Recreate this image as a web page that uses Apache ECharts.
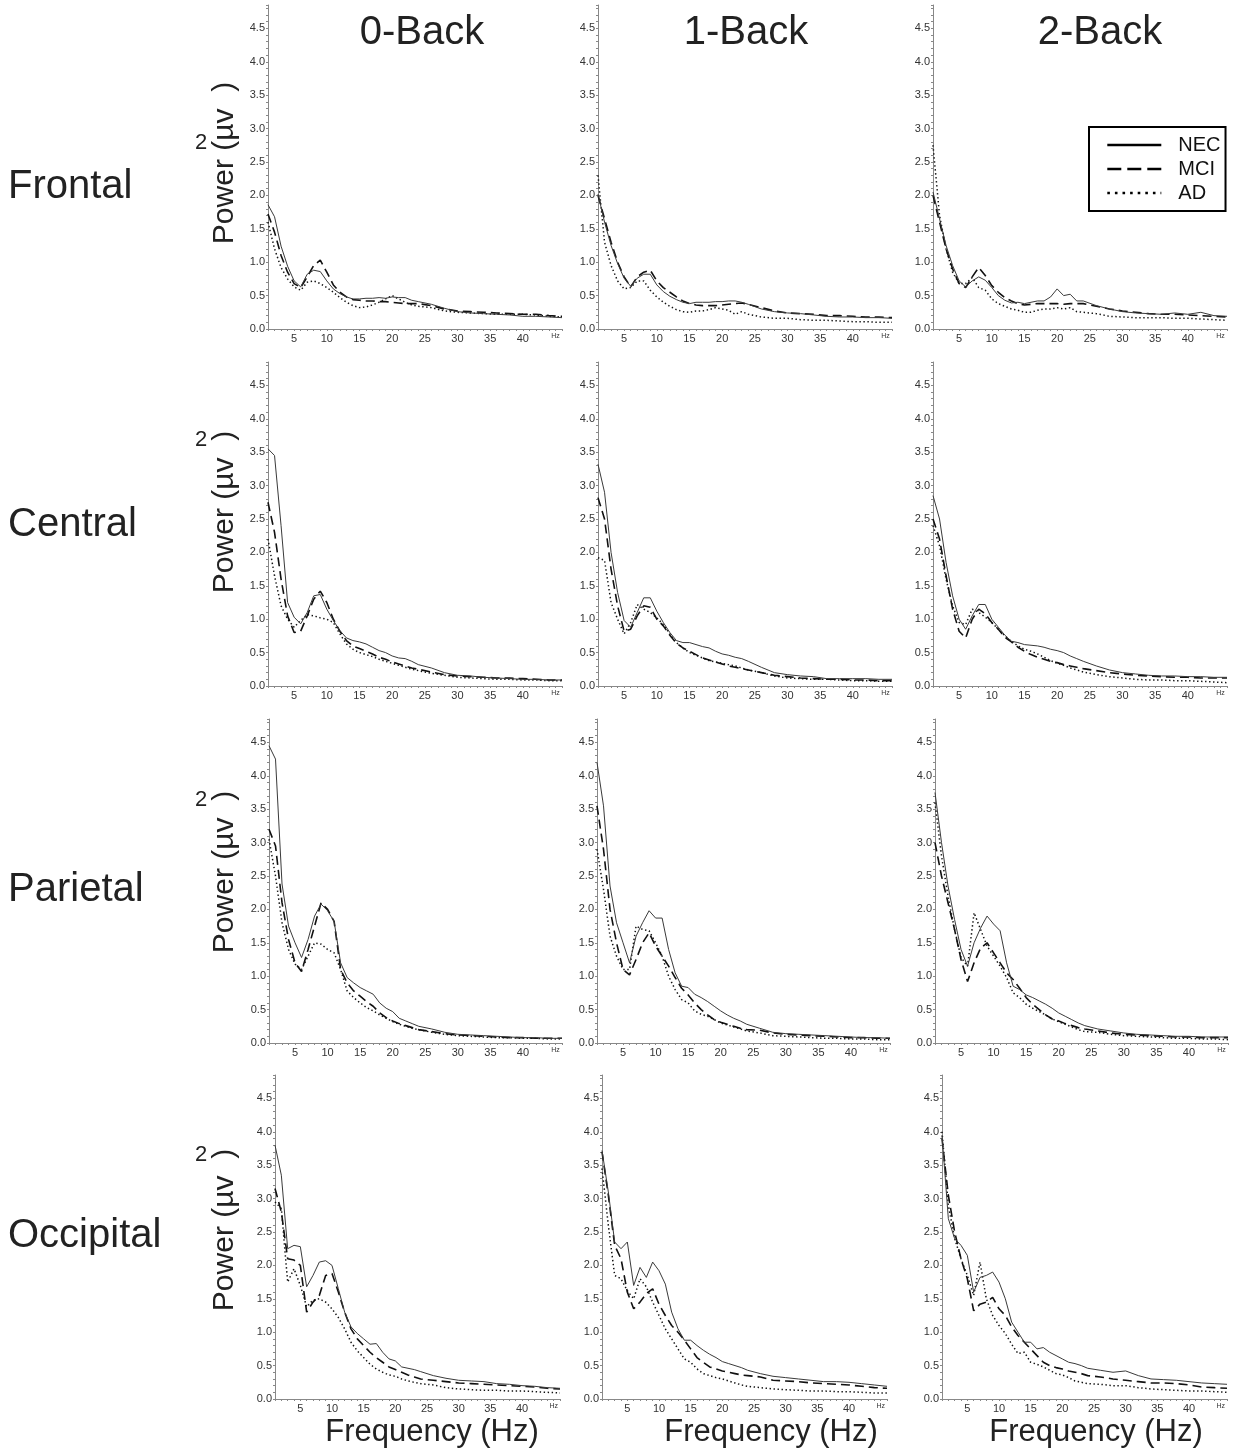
<!DOCTYPE html>
<html><head><meta charset="utf-8">
<script src="https://cdn.jsdelivr.net/npm/echarts@6/dist/echarts.min.js"></script>
<style>html,body{margin:0;padding:0;background:#fff}#c{width:1233px;height:1452px}</style>
</head><body><div id="c"></div>
<script>
const FREQ = [1,2,3,4,5,6,7,8,9,10,11,12,13,14,15,16,17,18,19,20,21,22,23,24,26,28,30,32,34,36,38,40,42,44,46];
const REGIONS = ['Frontal','Central','Parietal','Occipital'];
const TASKS = ['0-Back','1-Back','2-Back'];
const GROUPS = ['NEC','MCI','AD'];
const X_TICKS = [5,10,15,20,25,30,35,40,45];
const X_TICK_LABELS = ['5','10','15','20','25','30','35','40','Hz'];
const Y_TICKS = [0,0.5,1,1.5,2,2.5,3,3.5,4,4.5];
const Y_TICK_LABELS = ['0.0','0.5','1.0','1.5','2.0','2.5','3.0','3.5','4.0','4.5'];

// Frontal
const FRONTAL_0_NEC = [1.86,1.68,1.24,0.94,0.72,0.63,0.82,0.88,0.86,0.72,0.60,0.53,0.48,0.45,0.45,0.46,0.46,0.47,0.46,0.48,0.47,0.47,0.43,0.41,0.37,0.31,0.26,0.24,0.23,0.22,0.21,0.19,0.19,0.18,0.17];
const FRONTAL_0_MCI = [1.72,1.45,1.10,0.85,0.68,0.62,0.78,0.95,1.03,0.85,0.66,0.55,0.48,0.44,0.43,0.42,0.42,0.41,0.41,0.40,0.39,0.38,0.38,0.38,0.35,0.30,0.27,0.26,0.25,0.24,0.23,0.22,0.22,0.20,0.19];
const FRONTAL_0_AD  = [1.60,1.20,0.92,0.75,0.63,0.58,0.70,0.72,0.68,0.62,0.55,0.47,0.40,0.35,0.32,0.33,0.36,0.40,0.45,0.50,0.45,0.40,0.36,0.34,0.32,0.27,0.25,0.24,0.23,0.22,0.22,0.22,0.21,0.19,0.18];
const FRONTAL_1_NEC = [2.02,1.60,1.25,0.98,0.76,0.64,0.76,0.82,0.82,0.66,0.56,0.49,0.44,0.40,0.38,0.40,0.40,0.40,0.41,0.41,0.42,0.42,0.40,0.37,0.30,0.26,0.24,0.23,0.21,0.19,0.18,0.18,0.17,0.17,0.16];
const FRONTAL_1_MCI = [2.00,1.65,1.30,1.00,0.78,0.63,0.78,0.85,0.88,0.72,0.62,0.55,0.48,0.42,0.38,0.36,0.35,0.35,0.35,0.36,0.37,0.38,0.39,0.37,0.32,0.27,0.24,0.23,0.22,0.20,0.20,0.19,0.18,0.18,0.17];
const FRONTAL_1_AD  = [2.30,1.30,0.95,0.72,0.60,0.62,0.72,0.72,0.58,0.48,0.40,0.34,0.29,0.26,0.25,0.27,0.27,0.29,0.32,0.30,0.28,0.22,0.26,0.22,0.18,0.16,0.16,0.14,0.13,0.13,0.12,0.11,0.11,0.10,0.10];
const FRONTAL_2_NEC = [2.05,1.65,1.25,0.95,0.72,0.63,0.72,0.78,0.73,0.62,0.50,0.43,0.39,0.40,0.38,0.40,0.42,0.42,0.48,0.60,0.50,0.52,0.42,0.42,0.35,0.30,0.26,0.24,0.23,0.22,0.24,0.22,0.25,0.20,0.19];
const FRONTAL_2_MCI = [2.00,1.60,1.20,0.90,0.68,0.62,0.78,0.92,0.80,0.65,0.55,0.47,0.42,0.38,0.36,0.37,0.38,0.38,0.38,0.38,0.37,0.38,0.38,0.38,0.34,0.30,0.27,0.25,0.23,0.22,0.22,0.21,0.20,0.19,0.18];
const FRONTAL_2_AD  = [2.75,1.70,1.20,0.85,0.68,0.68,0.77,0.62,0.58,0.45,0.38,0.34,0.30,0.28,0.25,0.25,0.28,0.30,0.30,0.32,0.30,0.32,0.26,0.25,0.23,0.19,0.18,0.17,0.17,0.17,0.16,0.16,0.15,0.14,0.13];
// Central
const CENTRAL_0_NEC = [3.55,3.45,2.40,1.25,1.03,0.93,1.10,1.35,1.37,1.15,0.98,0.83,0.72,0.68,0.66,0.63,0.58,0.53,0.50,0.45,0.42,0.41,0.37,0.32,0.27,0.20,0.16,0.15,0.13,0.12,0.11,0.10,0.10,0.09,0.09];
const CENTRAL_0_MCI = [2.75,2.30,1.60,1.05,0.80,0.82,1.05,1.30,1.42,1.25,1.00,0.82,0.68,0.60,0.56,0.52,0.48,0.43,0.40,0.36,0.33,0.30,0.27,0.25,0.21,0.17,0.15,0.14,0.13,0.12,0.12,0.11,0.10,0.09,0.09];
const CENTRAL_0_AD  = [2.20,1.65,1.20,1.00,0.88,0.98,1.07,1.05,1.02,1.00,0.95,0.78,0.63,0.55,0.50,0.47,0.44,0.40,0.37,0.34,0.31,0.28,0.25,0.23,0.19,0.16,0.13,0.12,0.11,0.10,0.10,0.09,0.09,0.08,0.08];
const CENTRAL_1_NEC = [3.32,2.90,2.00,1.40,0.98,0.88,1.10,1.32,1.32,1.12,0.95,0.80,0.68,0.65,0.65,0.62,0.59,0.57,0.52,0.48,0.46,0.43,0.41,0.37,0.28,0.20,0.17,0.15,0.14,0.11,0.11,0.11,0.11,0.10,0.10];
const CENTRAL_1_MCI = [2.82,2.50,1.75,1.20,0.82,0.85,1.05,1.20,1.18,1.00,0.90,0.76,0.64,0.57,0.52,0.47,0.42,0.39,0.36,0.33,0.30,0.28,0.26,0.24,0.20,0.16,0.14,0.12,0.11,0.10,0.10,0.09,0.09,0.08,0.08];
const CENTRAL_1_AD  = [1.92,1.88,1.25,1.00,0.78,0.95,1.22,1.15,1.10,1.02,0.92,0.78,0.65,0.57,0.50,0.46,0.42,0.38,0.36,0.34,0.32,0.30,0.27,0.24,0.20,0.15,0.12,0.11,0.10,0.10,0.09,0.08,0.08,0.07,0.07];
const CENTRAL_2_NEC = [2.85,2.50,1.85,1.35,1.00,0.85,1.05,1.22,1.22,1.00,0.88,0.76,0.67,0.65,0.62,0.61,0.60,0.58,0.55,0.53,0.50,0.45,0.41,0.37,0.30,0.24,0.20,0.18,0.16,0.15,0.15,0.14,0.14,0.13,0.13];
const CENTRAL_2_MCI = [2.50,2.20,1.65,1.15,0.82,0.72,1.00,1.15,1.08,0.95,0.85,0.73,0.66,0.58,0.52,0.47,0.43,0.40,0.37,0.35,0.32,0.30,0.28,0.26,0.23,0.20,0.18,0.16,0.15,0.14,0.13,0.13,0.12,0.12,0.12];
const CENTRAL_2_AD  = [2.40,2.10,1.60,1.20,0.95,0.92,1.15,1.10,1.03,0.95,0.85,0.75,0.67,0.60,0.55,0.52,0.48,0.43,0.38,0.34,0.31,0.27,0.24,0.21,0.17,0.14,0.12,0.10,0.09,0.09,0.08,0.08,0.07,0.06,0.05];
// Parietal
const PARIETAL_0_NEC = [4.45,4.25,2.38,1.75,1.50,1.28,1.55,1.90,2.08,1.98,1.82,1.20,0.98,0.90,0.83,0.78,0.73,0.60,0.52,0.47,0.37,0.33,0.29,0.25,0.21,0.16,0.13,0.12,0.11,0.10,0.09,0.08,0.08,0.07,0.07];
const PARIETAL_0_MCI = [3.20,2.95,2.10,1.55,1.20,1.07,1.40,1.75,2.10,2.00,1.82,1.10,0.90,0.78,0.70,0.62,0.55,0.45,0.38,0.33,0.29,0.26,0.23,0.20,0.17,0.14,0.12,0.11,0.10,0.09,0.08,0.08,0.07,0.07,0.07];
const PARIETAL_0_AD  = [3.05,2.50,1.80,1.40,1.18,1.10,1.30,1.50,1.48,1.40,1.35,1.10,0.78,0.68,0.60,0.53,0.48,0.42,0.37,0.32,0.28,0.25,0.22,0.20,0.16,0.13,0.11,0.10,0.09,0.08,0.08,0.07,0.07,0.06,0.06];
const PARIETAL_1_NEC = [4.20,3.55,2.35,1.80,1.50,1.20,1.60,1.80,1.98,1.87,1.87,1.40,1.05,0.85,0.83,0.73,0.68,0.62,0.55,0.48,0.42,0.37,0.33,0.28,0.22,0.16,0.14,0.13,0.12,0.11,0.10,0.09,0.08,0.08,0.07];
const PARIETAL_1_MCI = [3.55,2.90,2.00,1.50,1.10,1.02,1.25,1.50,1.65,1.45,1.30,1.15,0.98,0.82,0.72,0.60,0.50,0.42,0.35,0.31,0.28,0.25,0.22,0.20,0.19,0.15,0.13,0.12,0.11,0.10,0.09,0.08,0.08,0.07,0.07];
const PARIETAL_1_AD  = [2.90,2.30,1.60,1.30,1.10,1.10,1.75,1.70,1.68,1.50,1.30,1.00,0.80,0.65,0.60,0.48,0.43,0.40,0.35,0.30,0.27,0.24,0.21,0.18,0.15,0.11,0.10,0.09,0.08,0.07,0.07,0.06,0.06,0.05,0.05];
const PARIETAL_2_NEC = [3.75,3.00,2.35,1.85,1.40,1.15,1.50,1.72,1.90,1.78,1.68,1.20,0.85,0.80,0.72,0.68,0.63,0.58,0.52,0.45,0.40,0.35,0.30,0.26,0.21,0.18,0.15,0.13,0.12,0.11,0.10,0.10,0.09,0.09,0.09];
const PARIETAL_2_MCI = [3.00,2.50,2.10,1.70,1.25,0.92,1.20,1.42,1.50,1.35,1.20,1.05,0.95,0.82,0.68,0.58,0.50,0.42,0.36,0.33,0.29,0.26,0.23,0.21,0.18,0.15,0.13,0.12,0.11,0.10,0.09,0.09,0.08,0.08,0.08];
const PARIETAL_2_AD  = [3.60,2.80,2.20,1.70,1.28,1.15,1.95,1.70,1.45,1.30,1.15,0.98,0.75,0.68,0.58,0.52,0.47,0.42,0.36,0.32,0.28,0.24,0.20,0.17,0.16,0.13,0.11,0.10,0.09,0.08,0.07,0.07,0.06,0.06,0.05];
// Occipital
const OCCIPITAL_0_NEC = [3.80,3.35,2.25,2.30,2.28,1.68,1.85,2.05,2.07,2.00,1.65,1.30,1.08,0.98,0.90,0.82,0.83,0.70,0.60,0.57,0.48,0.46,0.44,0.41,0.35,0.31,0.28,0.27,0.26,0.23,0.22,0.20,0.19,0.17,0.16];
const OCCIPITAL_0_MCI = [3.15,2.80,2.10,2.08,2.00,1.30,1.45,1.55,1.85,1.88,1.60,1.30,1.05,0.90,0.80,0.70,0.62,0.55,0.48,0.44,0.40,0.36,0.33,0.30,0.28,0.26,0.24,0.23,0.22,0.21,0.20,0.19,0.18,0.16,0.15];
const OCCIPITAL_0_AD  = [2.95,2.85,1.75,1.95,1.70,1.38,1.48,1.50,1.45,1.35,1.22,1.05,0.85,0.72,0.62,0.52,0.45,0.40,0.36,0.34,0.30,0.27,0.25,0.23,0.21,0.17,0.15,0.14,0.13,0.13,0.12,0.12,0.11,0.10,0.09];
const OCCIPITAL_1_NEC = [3.72,3.10,2.35,2.25,2.35,1.70,1.97,1.82,2.05,1.92,1.72,1.30,1.05,0.88,0.88,0.80,0.73,0.67,0.62,0.56,0.53,0.50,0.47,0.43,0.38,0.34,0.32,0.30,0.28,0.26,0.26,0.25,0.23,0.21,0.19];
const OCCIPITAL_1_MCI = [3.70,3.05,2.30,2.10,1.60,1.35,1.45,1.58,1.65,1.42,1.25,1.10,1.00,0.88,0.75,0.62,0.55,0.48,0.45,0.42,0.40,0.38,0.36,0.35,0.33,0.28,0.27,0.26,0.24,0.23,0.22,0.21,0.19,0.17,0.16];
const OCCIPITAL_1_AD  = [3.45,2.60,1.85,1.80,1.62,1.50,1.80,1.68,1.45,1.25,1.05,0.90,0.75,0.60,0.55,0.45,0.38,0.35,0.32,0.30,0.27,0.24,0.21,0.19,0.17,0.15,0.14,0.13,0.12,0.12,0.11,0.11,0.10,0.09,0.09];
const OCCIPITAL_2_NEC = [3.95,2.70,2.40,2.30,2.15,1.60,1.82,1.85,1.90,1.75,1.50,1.15,1.00,0.85,0.85,0.75,0.77,0.70,0.65,0.60,0.55,0.53,0.50,0.46,0.43,0.40,0.42,0.35,0.30,0.29,0.28,0.26,0.24,0.23,0.22];
const OCCIPITAL_2_MCI = [3.90,3.05,2.50,2.10,1.80,1.32,1.42,1.45,1.52,1.35,1.25,1.08,0.95,0.85,0.75,0.65,0.55,0.50,0.47,0.45,0.42,0.40,0.38,0.35,0.33,0.30,0.28,0.26,0.24,0.24,0.23,0.21,0.18,0.17,0.16];
const OCCIPITAL_2_AD  = [4.00,2.90,2.40,2.10,1.85,1.55,2.05,1.50,1.25,1.10,0.98,0.82,0.68,0.70,0.55,0.52,0.48,0.43,0.38,0.36,0.32,0.27,0.25,0.23,0.22,0.20,0.20,0.17,0.15,0.14,0.13,0.12,0.12,0.11,0.10];

const PANEL_DATA = [
  [[FRONTAL_0_NEC,FRONTAL_0_MCI,FRONTAL_0_AD],[FRONTAL_1_NEC,FRONTAL_1_MCI,FRONTAL_1_AD],[FRONTAL_2_NEC,FRONTAL_2_MCI,FRONTAL_2_AD]],
  [[CENTRAL_0_NEC,CENTRAL_0_MCI,CENTRAL_0_AD],[CENTRAL_1_NEC,CENTRAL_1_MCI,CENTRAL_1_AD],[CENTRAL_2_NEC,CENTRAL_2_MCI,CENTRAL_2_AD]],
  [[PARIETAL_0_NEC,PARIETAL_0_MCI,PARIETAL_0_AD],[PARIETAL_1_NEC,PARIETAL_1_MCI,PARIETAL_1_AD],[PARIETAL_2_NEC,PARIETAL_2_MCI,PARIETAL_2_AD]],
  [[OCCIPITAL_0_NEC,OCCIPITAL_0_MCI,OCCIPITAL_0_AD],[OCCIPITAL_1_NEC,OCCIPITAL_1_MCI,OCCIPITAL_1_AD],[OCCIPITAL_2_NEC,OCCIPITAL_2_MCI,OCCIPITAL_2_AD]]
];

const FONT = '"Liberation Sans", Arial, Helvetica, sans-serif';
const ROW_TOP = [5, 362, 719, 1075];
const ROW_H = 324;
const COL_LEFT = [[268,598,933],[268,598,933],[269,597,935],[275,602,942]];
const COL_W = [294,294,293,285];
const LINE_STYLES = [
  {type:'solid', width:1, color:'#3a3a3a'},
  {type:[9,5], width:1.6, color:'#111'},
  {type:[1.4,2.6], width:1.5, color:'#111'}
];
const LEGEND_LINES = [
  {type:'solid', width:2.6, color:'#000'},
  {type:[14,6], width:2.6, color:'#000'},
  {type:[2.6,5], width:2.6, color:'#000'}
];

const grids = [], xAxes = [], yAxes = [], series = [];
let idx = 0;
for (let r = 0; r < 4; r++) {
  for (let c = 0; c < 3; c++) {
    grids.push({left: COL_LEFT[r][c], top: ROW_TOP[r], width: COL_W[r], height: ROW_H, containLabel: false});
    xAxes.push({
      type:'value', gridIndex: idx, min: 1, max: 46, interval: 1,
      axisLine:{show:true, lineStyle:{color:'#888', width:1}},
      axisTick:{show:true, length:2, lineStyle:{color:'#888'}},
      splitLine:{show:false},
      axisLabel:{
        margin: 4, color:'#333', fontFamily: FONT, fontSize: 11,
        formatter: v => { const k = X_TICKS.indexOf(Math.round(v)); if (k < 0 || Math.abs(v-Math.round(v))>1e-6) return ''; return k === X_TICKS.length-1 ? '{hz|'+X_TICK_LABELS[k]+'}' : X_TICK_LABELS[k]; },
        rich:{hz:{fontSize:7, color:'#333', fontFamily: FONT, padding:[0,0,6,0]}}
      }
    });
    yAxes.push({
      type:'value', gridIndex: idx, min: 0, max: 4.85, interval: 0.1,
      axisLine:{show:true, lineStyle:{color:'#888', width:1}},
      axisTick:{show:true, length:2, lineStyle:{color:'#888'}},
      splitLine:{show:false},
      axisLabel:{
        margin: 3, color:'#333', fontFamily: FONT, fontSize: 11,
        formatter: v => { const k = Y_TICKS.findIndex(t => Math.abs(t - v) < 1e-6); return k < 0 ? '' : Y_TICK_LABELS[k]; }
      }
    });
    const sets = PANEL_DATA[r][c];
    for (let g = 0; g < 3; g++) {
      series.push({
        type:'line', name: GROUPS[g], xAxisIndex: idx, yAxisIndex: idx,
        data: FREQ.map((f,i) => [f, sets[g][i]]),
        showSymbol:false, symbol:'circle', symbolSize: 0, silent:true,
        lineStyle: Object.assign({}, LINE_STYLES[g]),
        itemStyle:{color: LINE_STYLES[g].color},
        z: 3 - g
      });
    }
    idx++;
  }
}

const graphics = [];
const COL_TITLE_X = [422, 746, 1100];
TASKS.forEach((t,c) => graphics.push({type:'text', x: COL_TITLE_X[c], y: 33, style:{text:t, font:'40px '+FONT, fill:'#222', textAlign:'center', textVerticalAlign:'middle'}}));
const ROW_LABEL_Y = [187, 525, 890, 1236];
REGIONS.forEach((t,r) => graphics.push({type:'text', x: 8, y: ROW_LABEL_Y[r], style:{text:t, font:'40px '+FONT, fill:'#222', textAlign:'left', textVerticalAlign:'middle'}}));
const YTITLE_Y = [163, 512, 872, 1230];
const SUP_Y = [143, 440, 800, 1155];
for (let r = 0; r < 4; r++) {
  graphics.push({type:'text', x: 225, y: YTITLE_Y[r], rotation: Math.PI/2, style:{text:'Power (µv  )', font:'30px '+FONT, fill:'#222', textAlign:'center', textVerticalAlign:'middle'}});
  graphics.push({type:'text', x: 201, y: SUP_Y[r], style:{text:'2', font:'22px '+FONT, fill:'#222', textAlign:'center', textVerticalAlign:'middle'}});
}
const XT_X = [432, 771, 1096];
XT_X.forEach(x => graphics.push({type:'text', x: x, y: 1432, style:{text:'Frequency (Hz)', font:'31px '+FONT, fill:'#222', textAlign:'center', textVerticalAlign:'middle'}}));

const chart = echarts.init(document.getElementById('c'), null, {renderer:'canvas'});
chart.setOption({
  animation:false,
  backgroundColor:'#fff',
  grid: grids, xAxis: xAxes, yAxis: yAxes, series: series,
  legend: {
    data: GROUPS.map((g,i) => ({name: g, lineStyle: LEGEND_LINES[i], itemStyle:{color:'rgba(0,0,0,0)', borderWidth:0}})),
    orient:'vertical', left: 1089, top: 127,
    padding:[8,5,8,17], itemGap: 4, itemWidth: 54, itemHeight: 2,
    borderColor:'#000', borderWidth: 2, backgroundColor:'#fff',
    itemStyle:{color:'rgba(0,0,0,0)', borderWidth:0},
    selectedMode:false,
    textStyle:{fontFamily: FONT, fontSize: 20, color:'#111', lineHeight: 20, padding:[0,0,0,12]}
  },
  graphic: graphics
});
</script></body></html>
